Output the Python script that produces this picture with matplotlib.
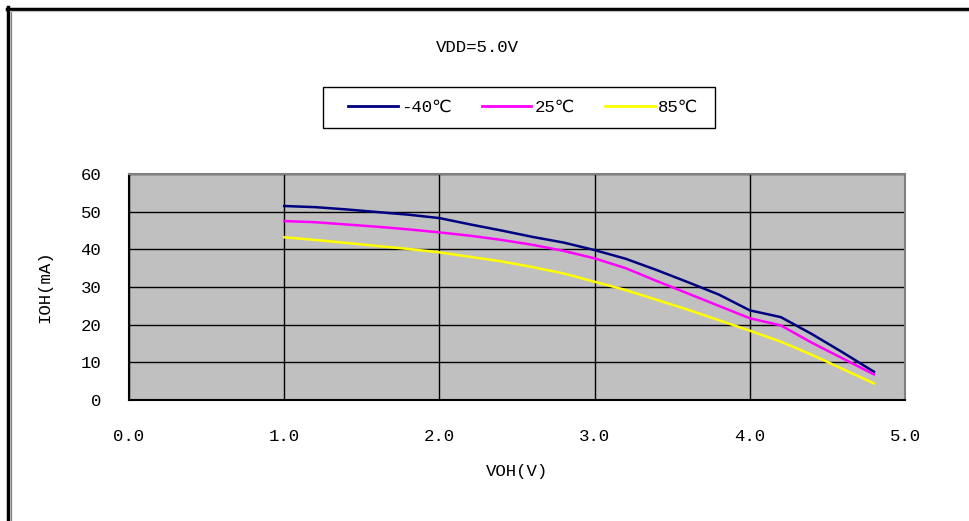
import matplotlib
matplotlib.use("Agg")
import matplotlib.pyplot as plt
from matplotlib.lines import Line2D
from matplotlib.patches import Rectangle

plt.rcParams['font.family'] = ['Liberation Mono', 'DejaVu Sans Mono', 'DejaVu Sans']

voh = [1.0, 1.2, 1.4, 1.6, 1.8, 2.0, 2.2, 2.4, 2.6, 2.8, 3.0, 3.2, 3.4, 3.6, 3.8, 4.0, 4.2, 4.4, 4.6, 4.8]
ioh_m40 = [51.5, 51.2, 50.6, 49.9, 49.2, 48.3, 46.6, 45.0, 43.3, 41.8, 39.8, 37.5, 34.5, 31.3, 28.0, 23.8, 22.0, 17.5, 12.6, 7.5]
ioh_25 = [47.5, 47.2, 46.6, 46.0, 45.3, 44.5, 43.6, 42.5, 41.2, 39.6, 37.6, 35.0, 31.6, 28.3, 25.0, 21.7, 19.8, 15.2, 11.0, 6.8]
ioh_85 = [43.2, 42.5, 41.7, 40.9, 40.1, 39.2, 38.0, 36.8, 35.3, 33.6, 31.4, 29.2, 26.6, 24.0, 21.2, 18.4, 15.5, 12.0, 8.2, 4.4]
labels = ['-40℃', '25℃', '85℃']
xticks = [0.0, 1.0, 2.0, 3.0, 4.0, 5.0]
yticks = [0, 10, 20, 30, 40, 50, 60]

FS = 12.5
W, H = 970, 521
fig = plt.figure(figsize=(W / 100, H / 100), dpi=100)
ax = fig.add_axes([129 / W, (H - 400) / H, (905 - 129) / W, (400 - 174) / H])
ax.set_facecolor('#C0C0C0')

for y, lab, c in zip([ioh_m40, ioh_25, ioh_85], labels, ['#000080', '#FF00FF', '#FFFF00']):
    ax.plot(voh, y, color=c, lw=1.8, label=lab, solid_joinstyle='round')

ax.set_xlim(0, 5)
ax.set_ylim(0, 60)
ax.set_xticks(xticks)
ax.set_xticklabels([f'{v:.1f}' for v in xticks])
ax.set_yticks(yticks)
ax.grid(True, color='black', lw=1.0)
ax.set_axisbelow(True)
ax.tick_params(length=0, labelsize=FS)
ax.tick_params(axis='x', pad=21)
ax.tick_params(axis='y', pad=20)
for s in ['left', 'bottom']:
    ax.spines[s].set_color('black')
    ax.spines[s].set_linewidth(1.5)
for s in ['top', 'right']:
    ax.spines[s].set_color('#808080')
    ax.spines[s].set_linewidth(1.5)

ax.set_xlabel('VOH(V)', fontsize=FS, labelpad=14)
ax.set_ylabel('IOH(mA)', fontsize=FS, labelpad=20)

fig.text(477 / W, 1 - 47 / H, 'VDD=5.0V', ha='center', va='center', fontsize=FS)

# legend box
fig.add_artist(Rectangle((323 / W, 1 - 128 / H), (715 - 323) / W, (128 - 87) / H,
                         transform=fig.transFigure, facecolor='white', edgecolor='black', lw=1.0))
leg = fig.legend(loc='center', bbox_to_anchor=(523 / W, 1 - 107.5 / H), ncol=3,
                 frameon=False, fontsize=FS,
                 handlelength=2.87, handletextpad=0.17, columnspacing=1.75,
                 borderpad=0.0, borderaxespad=0)
for h in leg.legend_handles:
    h.set_linewidth(2)

# outer frame
fig.add_artist(Line2D([8.5 / W, 8.5 / W], [0, 1 - 7 / H], transform=fig.transFigure, color='black', lw=2.5))
fig.add_artist(Line2D([7 / W, 1], [1 - 8.5 / H, 1 - 8.5 / H], transform=fig.transFigure, color='black', lw=2.5))
fig.add_artist(Line2D([10.8 / W, 10.8 / W], [0, 1 - 10.5 / H], transform=fig.transFigure, color='#808080', lw=0.9))
fig.add_artist(Line2D([10.5 / W, 1], [1 - 10.8 / H, 1 - 10.8 / H], transform=fig.transFigure, color='#C0C0C0', lw=0.9))

fig.savefig('out.png', dpi=100)
